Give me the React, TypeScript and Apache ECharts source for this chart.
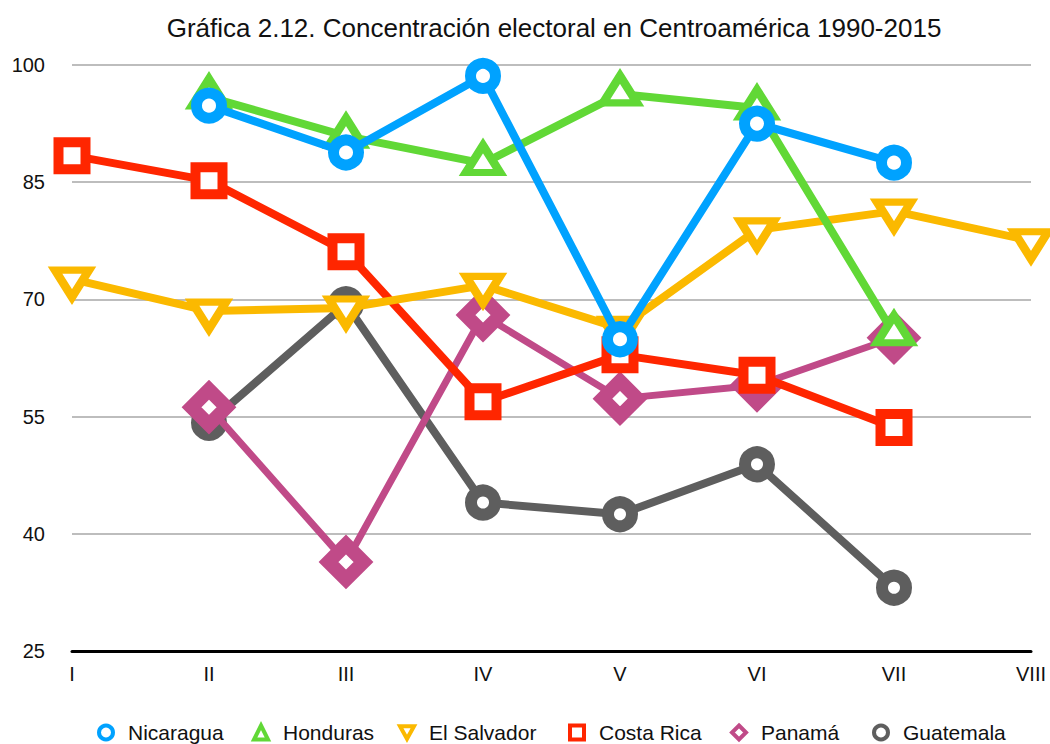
import React, { useEffect, useRef } from "react";
import * as echarts from "echarts";

const categories = ["I", "II", "III", "IV", "V", "VI", "VII", "VIII"];
const seriesNames = ["Nicaragua", "Honduras", "El Salvador", "Costa Rica", "Panamá", "Guatemala"];
const nicaragua = [null, 94.8, 88.8, 98.6, 64.9, 92.5, 87.5, null];
const honduras = [null, 95.9, 90.9, 87.4, 96.3, 94.5, 65.6, null];
const elSalvador = [72.6, 68.5, 68.9, 71.8, 66.3, 78.9, 81.3, 77.5];
const costaRica = [88.4, 85.2, 76.1, 56.9, 62.9, 60.3, 53.6, null];
const panama = [null, 56.2, 36.4, 68.0, 57.3, 59.0, 65.1, null];
const guatemala = [null, 54.2, 69.4, 44.0, 42.5, 48.9, 33.1, null];
const yTicks = { min: 25, max: 100, interval: 15 };

const colors = ["#00A2FF", "#61D836", "#FBB900", "#FF2600", "#C04A88", "#5E5E5E"];
const dataSets = [nicaragua, honduras, elSalvador, costaRica, panama, guatemala];

const INV_TRI = "path://M0,0L10,0L5,9Z";

const markerStyles: any[] = [
  { symbol: "circle", symbolSize: 25, borderWidth: 11, lineWidth: 8 },
  { symbol: "triangle", symbolSize: [34, 27], borderWidth: 8, lineWidth: 8, symbolOffset: [0, -4.5] },
  { symbol: "triangle", symbolSize: [34, 27], borderWidth: 8, lineWidth: 8, symbolOffset: [0, 4.5], symbolRotate: 180 },
  { symbol: "rect", symbolSize: 27, borderWidth: 10, lineWidth: 8 },
  { symbol: "diamond", symbolSize: 35, borderWidth: 14, lineWidth: 7 },
  { symbol: "circle", symbolSize: 24, borderWidth: 12, lineWidth: 8 },
];

const legendIcons = ["circle", "triangle", INV_TRI, "rect", "diamond", "circle"];
const legendIconCenters = [104, 259, 405, 575, 737, 879];

export default function App() {
  const ref = useRef<HTMLDivElement>(null);
  useEffect(() => {
    if (!ref.current) return;
    const chart = echarts.init(ref.current, null, { renderer: "svg" });
    const font = "'Liberation Sans', Arial, Helvetica, sans-serif";
    const series = seriesNames.map((name, i) => {
      const m = markerStyles[i];
      return {
        name,
        type: "line",
        data: dataSets[i],
        z: 10 - i,
        symbol: m.symbol,
        symbolSize: m.symbolSize,
        symbolOffset: m.symbolOffset || [0, 0],
        symbolRotate: m.symbolRotate || 0,
        showAllSymbol: true,
        connectNulls: false,
        lineStyle: { color: colors[i], width: m.lineWidth },
        itemStyle: { color: "#ffffff", borderColor: colors[i], borderWidth: m.borderWidth },
        emphasis: { disabled: true },
      };
    });
    const legends = seriesNames.map((name, i) => ({
      left: legendIconCenters[i] - 7,
      top: 722,
      itemWidth: 14,
      itemHeight: 14,
      padding: 0,
      selectedMode: false,
      textStyle: { fontSize: 21, color: "#111", fontFamily: font, padding: [3, 0, 0, 10] },
      data: [
        {
          name,
          icon: legendIcons[i],
          itemStyle: { color: "#ffffff", borderColor: colors[i], borderWidth: 4 },
        },
      ],
    }));
    chart.setOption({
      animation: false,
      backgroundColor: "#ffffff",
      textStyle: { fontFamily: font },
      title: {
        text: "Gráfica 2.12. Concentración electoral en Centroamérica 1990-2015",
        left: 549,
        top: 10,
        textAlign: "center",
        textStyle: { fontSize: 26, fontWeight: "normal", color: "#111", fontFamily: font },
      },
      grid: { left: 72, right: 19, top: 65, bottom: 93, containLabel: false },
      xAxis: {
        type: "category",
        data: categories,
        boundaryGap: false,
        axisLine: { show: true, lineStyle: { color: "#000", width: 3 } },
        axisTick: { show: false },
        axisLabel: { fontSize: 20, color: "#111", margin: 13, fontFamily: font },
        splitLine: { show: false },
      },
      yAxis: {
        type: "value",
        min: yTicks.min,
        max: yTicks.max,
        interval: yTicks.interval,
        axisLine: { show: false },
        axisTick: { show: false },
        axisLabel: { fontSize: 20, color: "#111", margin: 27, fontFamily: font },
        splitLine: { show: true, lineStyle: { color: "#BDBDBD", width: 2 } },
      },
      legend: legends,
      series,
    });
    return () => chart.dispose();
  }, []);
  return (
    <div
      ref={ref}
      style={{ position: "fixed", left: 0, top: 0, width: 1050, height: 744 }}
    />
  );
}
